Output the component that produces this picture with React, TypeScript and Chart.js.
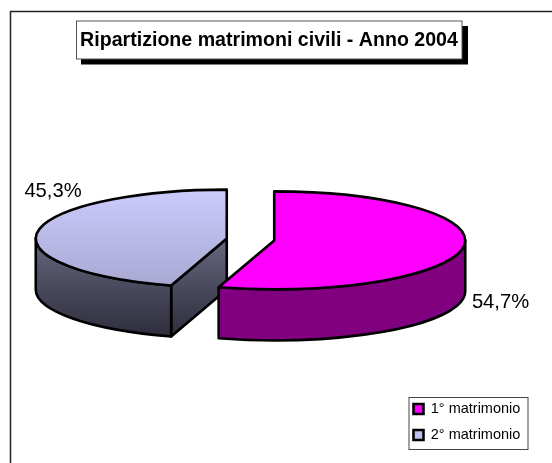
import React, { useEffect, useRef } from "react";
import { Chart, registerables } from "chart.js";

Chart.register(...registerables);

const TITLE = "Ripartizione matrimoni civili - Anno 2004";
const categories = ["1° matrimonio", "2° matrimonio"];
const shares = [54.7, 45.3];
const swatchColors = ["#ff00ff", "#c0c0f0"];
const topGradients = [["#ff00ff", "#ff00ff"], ["#cbcbfd", "#a8a8d2"]];
const sideGradients = [["#800080", "#800080"], ["#66667f", "#2c2c3b"]];

const W = 552;
const H = 463;
const SANS = "'Liberation Sans', Arial, sans-serif";
const SQUASH = 49 / 191;
const DEPTH = 51;
const LINE = 2.6;
const labelCentres = [[500.5, 302], [53, 191]];

const pie3d = {
  id: "pie3d",
  beforeDraw(chart: any) {
    const { ctx } = chart;
    ctx.save();
    ctx.fillStyle = "#fff";
    ctx.fillRect(0, 0, W, H);
    ctx.strokeStyle = "#222";
    ctx.lineWidth = 1.5;
    ctx.strokeRect(10.5, 11.5, W + 20, H + 20);
    // title frame + shadow
    ctx.fillStyle = "#000";
    ctx.fillRect(81, 26, 387, 38.5);
    ctx.fillStyle = "#fff";
    ctx.fillRect(76, 21, 386, 38);
    ctx.strokeStyle = "#555";
    ctx.lineWidth = 1;
    ctx.strokeRect(76.5, 21, 385.5, 38);
    // legend frame
    ctx.strokeStyle = "#444";
    ctx.strokeRect(409, 397.5, 119, 52);
    ctx.restore();
  },
  afterLayout(chart: any) {
    const t = chart.titleBlock;
    t.left = 76; t.right = 462; t.top = 28.5; t.bottom = 52.5;
    const l = chart.legend;
    l.left = 402; l.right = 528; l.top = 390.25; l.bottom = 480;
  },
  beforeDatasetDraw(chart: any, args: any) {
    const { ctx } = chart;
    const arcs = chart.getDatasetMeta(args.index).data;
    ctx.save();
    ctx.lineJoin = "round";
    ctx.lineWidth = LINE;
    ctx.strokeStyle = "#000";
    for (let i = arcs.length - 1; i >= 0; i--) {
      const a = arcs[i];
      const mid = (a.startAngle + a.endAngle) / 2;
      const off = a.options.offset || 0;
      const cx = a.x + Math.cos(mid) * off;
      const cy = a.y + Math.sin(mid) * off * SQUASH;
      const R = a.outerRadius;
      const ry = R * SQUASH;
      const px = (ang: number) => cx + R * Math.cos(ang);
      const py = (ang: number) => cy + ry * Math.sin(ang);

      const sideFill = (y0: number, y1: number) => {
        const g = ctx.createLinearGradient(0, y0, 0, y1);
        g.addColorStop(0, sideGradients[i][0]);
        g.addColorStop(1, sideGradients[i][1]);
        return g;
      };
      const face = (ang: number) => {
        ctx.beginPath();
        ctx.moveTo(cx, cy);
        ctx.lineTo(px(ang), py(ang));
        ctx.lineTo(px(ang), py(ang) + DEPTH);
        ctx.lineTo(cx, cy + DEPTH);
        ctx.closePath();
        ctx.fillStyle = sideFill(cy, cy + ry + DEPTH);
        ctx.fill();
        ctx.stroke();
      };
      if (Math.cos(a.startAngle) < -1e-6) face(a.startAngle);
      if (Math.cos(a.endAngle) > 1e-6) face(a.endAngle);

      // outer wall: only the part facing the viewer
      const s = Math.max(a.startAngle, 0);
      const e = Math.min(a.endAngle, Math.PI);
      if (e > s) {
        ctx.beginPath();
        ctx.ellipse(cx, cy, R, ry, 0, s, e, false);
        ctx.lineTo(px(e), py(e) + DEPTH);
        ctx.ellipse(cx, cy + DEPTH, R, ry, 0, e, s, true);
        ctx.closePath();
        ctx.fillStyle = sideFill(cy, cy + ry + DEPTH);
        ctx.fill();
        ctx.stroke();
      }

      // top face
      ctx.beginPath();
      ctx.moveTo(cx, cy);
      ctx.ellipse(cx, cy, R, ry, 0, a.startAngle, a.endAngle, false);
      ctx.closePath();
      const g = ctx.createLinearGradient(0, cy - ry, 0, cy + ry);
      g.addColorStop(0, topGradients[i][0]);
      g.addColorStop(1, topGradients[i][1]);
      ctx.fillStyle = g;
      ctx.fill();
      ctx.stroke();
    }
    // data labels
    ctx.fillStyle = "#000";
    ctx.font = `20.2px ${SANS}`;
    ctx.textAlign = "center";
    ctx.textBaseline = "middle";
    shares.forEach((v, i) => {
      ctx.fillText(`${v.toFixed(1).replace(".", ",")}%`, labelCentres[i][0], labelCentres[i][1]);
    });
    ctx.restore();
    return false;
  },
};

export default function App() {
  const ref = useRef<HTMLCanvasElement>(null);
  useEffect(() => {
    const chart = new Chart(ref.current as any, {
      type: "pie",
      data: {
        labels: categories,
        datasets: [{
          data: shares,
          backgroundColor: swatchColors,
          borderColor: "#000",
          borderWidth: 2.6,
          offset: 24,
        }],
      },
      options: {
        responsive: false,
        animation: false,
        events: [],
        radius: 191,
        layout: { padding: { left: 0, right: 51, top: 0, bottom: 8 } },
        plugins: {
          tooltip: { enabled: false },
          title: {
            display: true,
            text: TITLE,
            color: "#000",
            padding: 0,
            font: { family: SANS, size: 19.6, weight: "bold", lineHeight: 1.2245 },
          },
          legend: {
            position: "chartArea",
            align: "start",
            labels: {
              color: "#000",
              boxWidth: 10,
              boxHeight: 10,
              padding: 11.5,
              font: { family: SANS, size: 14.5 },
            },
          },
        },
      },
      plugins: [pie3d],
    } as any);
    return () => chart.destroy();
  }, []);
  return (
    <div style={{ position: "fixed", left: 0, top: 0, width: W, height: H, overflow: "hidden" }}>
      <canvas ref={ref} width={W} height={H} style={{ display: "block" }} />
    </div>
  );
}
